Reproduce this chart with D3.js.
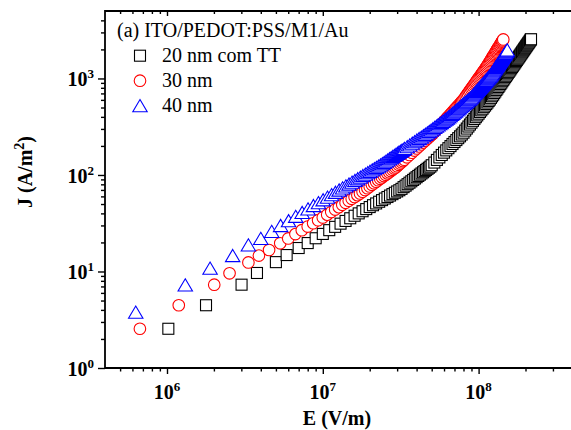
<!DOCTYPE html>
<html><head><meta charset="utf-8">
<script src="https://cdn.jsdelivr.net/npm/d3@7"></script>
<style>
body{margin:0;background:#fff}
text{font-family:"Liberation Serif","Times New Roman",serif}
</style>
</head><body>
<svg id="c" width="571" height="430"></svg>
<script>
// Electric field in MV/m (x 1e6 V/m), current density J in A/m^2
const E20 = [1.02,1.78,3.01,3.78,5.0,5.86,
7,8,9,10,11,12,13,14,15,16,17,18,19,20,21,22,23,24,25,26,27,28,29,30,31,32,33,34,35,36,37,38,39,40,41,42,43,44,45,46,47,48,49,50,
52,54,56,58,60,62,64,66,68,70,72,74,76,78,80,82,84,86,88,90,92,94,96,98,100,102,104,106,108,110,112,114,116,118,120,122,124,126,128,130,
132,134,136,138,140,142,144,146,148,150,152,154,156,158,160,162,164,166,168,170,172,174,176,178,180,182,184,186,188,190,192,194,196,198,200,
202,204,206,208,210,212,214,216,217];
const J20 = [2.55,4.47,7.3,9.65,12.5,14.8,
17.5,19.7,22.1,24.5,26.8,29.0,31.3,33.4,35.6,37.8,40.0,42.1,44.3,46.5,48.6,50.7,52.8,54.9,57.0,59.1,61.2,63.3,65.4,67.5,
69.5,71.8,74.8,77.5,80.3,83.2,86.0,88.9,91.8,94.8,97.7,100.7,103.7,106.7,109.6,112.8,115.8,118.9,122.0,126.2,
134.5,143.2,152.0,161.1,170.4,179.8,189.5,199.2,209.4,219.6,230.0,240.6,251.4,262.6,274.3,288.4,302.6,317.7,333.0,348.3,
364.1,380.4,397.2,414.0,431.5,449.2,467.2,485.6,504.4,523.6,542.9,562.9,583.3,604.7,629.5,654.4,679.8,706.2,732.8,760.8,
788.2,816.6,845.6,875.6,906.2,936.6,968.5,1001,1033,1066,1100,1134,1170,1206,1242,1279,1317,1355,1394,1433,
1474,1514,1556,1599,1641,1685,1729,1774,1819,1866,1912,1960,2008,2057,2104,2157,2207,2258,2311,2360,2416,2471,2527,2547];

const E30 = [0.67,1.19,2.01,2.52,3.33,3.89,4.52,
5.33,6.0,6.67,7.33,8.0,8.67,9.33,10.0,10.67,11.33,12.0,12.67,13.33,14.0,14.67,15.33,16.0,16.67,17.33,18.0,18.67,19.33,20.0,
20.67,21.33,22.0,22.67,23.33,24.0,24.67,25.33,26.0,26.67,27.33,28.0,28.67,29.33,30.0,30.67,31.33,32.0,32.67,33.33,
34.67,36,37.33,38.67,40,41.33,42.67,44,45.33,46.67,48,49.33,50.67,52,53.33,54.67,56,57.33,58.67,60,
61.33,62.67,64,65.33,66.67,68,69.33,70.67,72,73.33,74.67,76,77.33,78.67,80,81.33,82.67,84,85.33,86.67,
88,89.33,90.67,92,93.33,94.67,96,97.33,98.67,100,101.33,102.67,104,105.33,106.67,108,109.33,110.67,112,113.33,
114.67,116,117.33,118.67,120,121.33,122.67,124,125.33,126.67,128,129.33,130.67,132,133.33,134.67,136,137.33,138.67,140,
141.33,142.67,144];
const J30 = [2.55,4.47,7.3,9.57,12.4,14.6,16.7,
19.6,22.0,24.4,26.8,29.2,31.6,34.0,36.3,38.8,41.3,43.8,46.4,49.0,51.5,54.1,56.6,59.2,61.8,64.3,67.0,70.0,72.9,76.0,
79.0,82.0,85.1,88.2,91.2,94.4,97.4,100.6,103.8,106.9,110.1,113.2,116.5,119.7,123.2,127.3,131.4,135.5,139.6,143.9,
152.4,161.2,170.0,178.9,188.4,197.4,206.9,216.8,226.2,236.0,246.2,256.2,266.5,278.5,291.2,304.3,317.7,331.3,345.3,359.4,
373.9,388.5,403.6,418.6,434.0,449.7,465.5,481.7,498.1,514.8,531.5,548.7,566.1,583.4,601.9,625.4,649.0,673.5,698.2,723.4,
749.6,775.8,802.5,830.1,857.9,886.6,915.7,945.3,975.2,1006,1036,1068,1100,1133,1166,1200,1234,1269,1305,1343,
1385,1428,1473,1518,1564,1610,1657,1706,1755,1805,1855,1907,1961,2014,2068,2125,2179,2237,2296,2354,2413,2475,2538];

const E40 = [0.63,1.31,1.89,2.64,3.33,4.0,4.7,
5.36,6.03,6.70,7.37,8.04,8.71,9.38,10.05,10.72,11.39,12.06,12.73,13.4,14.07,14.74,15.41,16.08,16.75,17.42,18.09,18.76,19.43,20.1,
20.77,21.44,22.11,22.78,23.45,24.12,24.79,25.46,26.13,26.8,27.47,28.14,28.81,29.48,30.15,30.82,31.49,32.16,32.83,33.5,
34.84,36.18,37.52,38.86,40.2,41.54,42.88,44.22,45.56,46.9,48.24,49.58,50.92,52.26,53.6,54.94,56.28,57.62,58.96,60.3,
61.64,62.98,64.32,65.66,67.0,68.34,69.68,71.02,72.36,73.7,75.04,76.38,77.72,79.06,80.4,81.74,83.08,84.42,85.76,87.1,
88.44,89.78,91.12,92.46,93.8,95.14,96.48,97.82,99.16,100.5,101.84,103.18,104.52,105.86,107.2,108.54,109.88,111.22,112.56,113.9,
115.24,116.58,117.92,119.26,120.6,121.94,123.28,124.62,125.96,127.3,128.64,129.98,131.32,132.66,134.0,135.34,136.68,138.02,139.36,140.7,
142.04,143.38,144.72,146.06,147.4,148.74,150.08,151.42,152.76];
const J40 = [3.78,7.25,10.8,14.6,18.8,22.0,26.0,
29.9,33.5,37.2,40.8,44.4,48.1,51.6,55.2,58.8,62.4,66.0,69.7,73.3,76.8,80.4,84.0,87.5,91.2,94.7,98.4,101.9,105.4,108.9,
112.6,116.1,119.6,123.3,126.9,130.8,134.9,138.9,142.8,147.0,151.0,154.9,159.2,163.3,167.3,171.5,175.5,179.6,183.8,187.9,
196.2,204.5,212.8,221.2,229.6,238.1,246.5,255.0,263.5,272.3,281.6,291.1,300.6,310.2,319.8,329.4,339.1,348.8,358.6,368.4,
378.3,388.2,399.8,411.4,423.2,435.1,447.0,459.2,471.3,483.6,496.0,508.4,521.0,533.6,546.3,559.2,572.0,585.0,597.9,610.9,
624.3,639.5,657.2,675.3,693.4,711.9,730.6,749.5,768.6,787.7,807.0,826.8,846.6,867.1,887.2,907.8,928.5,949.7,970.9,992.2,
1014,1036,1058,1080,1105,1136,1166,1198,1230,1262,1295,1328,1362,1396,1431,1467,1502,1538,1575,1613,
1650,1689,1728,1768,1807,1848,1888,1930,1972];

const seriesNames = ["20 nm com TT","30 nm","40 nm"];
const legendTitle = "(a) ITO/PEDOT:PSS/M1/Au";
const xMajor = [1e6,1e7,1e8];
const yMajor = [1,10,100,1000];
const xMinor = [5e5,6e5,7e5,8e5,9e5,2e6,3e6,4e6,5e6,6e6,7e6,8e6,9e6,2e7,3e7,4e7,5e7,6e7,7e7,8e7,9e7,2e8,3e8,4e8];
const yMinor = [2,3,4,5,6,7,8,9,20,30,40,50,60,70,80,90,200,300,400,500,600,700,800,900,2000,3000,4000];

const svg = d3.select("#c");
const L = 105, R = 572.4, T = 11, B = 368;
const x = d3.scaleLog().domain([4e5,4e8]).range([L,R]);
const y = d3.scaleLog().domain([1,5000]).range([B,T]);

function styleAxis(g){ g.select(".domain").remove(); g.selectAll("line").attr("stroke","#000").attr("stroke-width",1.4); }

svg.append("g").attr("transform",`translate(0,${B})`).call(d3.axisBottom(x).tickValues(xMajor).tickSize(6).tickFormat("")).call(styleAxis);
svg.append("g").attr("transform",`translate(0,${B})`).call(d3.axisBottom(x).tickValues(xMinor).tickSize(3.5).tickFormat("")).call(styleAxis);
svg.append("g").attr("transform",`translate(0,${T})`).call(d3.axisBottom(x).tickValues(xMajor).tickSize(5).tickFormat("")).call(styleAxis);
svg.append("g").attr("transform",`translate(0,${T})`).call(d3.axisBottom(x).tickValues(xMinor).tickSize(3).tickFormat("")).call(styleAxis);
svg.append("g").attr("transform",`translate(${L},0)`).call(d3.axisLeft(y).tickValues(yMajor).tickSize(7).tickFormat("")).call(styleAxis);
svg.append("g").attr("transform",`translate(${L},0)`).call(d3.axisLeft(y).tickValues(yMinor).tickSize(4).tickFormat("")).call(styleAxis);

// frame
svg.append("path").attr("d",`M${R},${T}H${L}V${B}H${R}`).attr("fill","none").attr("stroke","#000").attr("stroke-width",1.8);

// tick labels
xMajor.forEach(v=>{
  const t = svg.append("text").attr("x",x(v)).attr("y",399).attr("text-anchor","middle")
    .attr("font-size",20).attr("font-weight","bold");
  t.append("tspan").text("10");
  t.append("tspan").attr("font-size",13).attr("dy",-8).text(Math.round(Math.log10(v)));
});
yMajor.forEach(v=>{
  const t = svg.append("text").attr("x",94).attr("y",y(v)+8).attr("text-anchor","end")
    .attr("font-size",20).attr("font-weight","bold");
  t.append("tspan").text("10");
  t.append("tspan").attr("font-size",13).attr("dy",-8).text(Math.round(Math.log10(v)));
});

// axis titles
svg.append("text").attr("x",337).attr("y",425).attr("text-anchor","middle")
  .attr("font-size",20).attr("font-weight","bold").text("E (V/m)");
const yt = svg.append("text").attr("transform","translate(32,172) rotate(-90)").attr("text-anchor","middle")
  .attr("font-size",20).attr("font-weight","bold");
yt.append("tspan").text("J (A/m");
yt.append("tspan").attr("font-size",14).attr("dy",-8).text("2");
yt.append("tspan").attr("dy",8).text(")");

// markers
const shapes = [
  {E:E20,J:J20,color:"#000000",draw:(g)=>g.append("rect").attr("x",-5.5).attr("y",-5.5).attr("width",11).attr("height",11)},
  {E:E30,J:J30,color:"#ff0000",draw:(g)=>g.append("circle").attr("r",5.8)},
  {E:E40,J:J40,color:"#0000ff",draw:(g)=>g.append("path").attr("d","M0,-6.2L7.2,6L-7.2,6Z")}
];
svg.append("clipPath").attr("id","pc").append("rect").attr("x",L).attr("y",T).attr("width",R-L).attr("height",B-T);
const plot = svg.append("g").attr("clip-path","url(#pc)");
shapes.forEach(s=>{
  const pts = s.E.map((e,i)=>({e:e*1e6,j:s.J[i]}));
  pts.forEach(p=>{
    const g = plot.append("g").attr("transform",`translate(${x(p.e)},${y(p.j)})`);
    s.draw(g).attr("fill","#fff").attr("stroke",s.color).attr("stroke-width",1.1);
  });
});

// legend
svg.append("text").attr("x",117).attr("y",37).attr("font-size",20).text(legendTitle);
shapes.forEach((s,i)=>{
  const cy = 55.7 + i*25;
  const g = svg.append("g").attr("transform",`translate(140,${cy})`);
  s.draw(g).attr("fill","#fff").attr("stroke",s.color).attr("stroke-width",1.1);
  svg.append("text").attr("x",162).attr("y",cy+6.5).attr("font-size",20).text(seriesNames[i]);
});
</script>
</body></html>
